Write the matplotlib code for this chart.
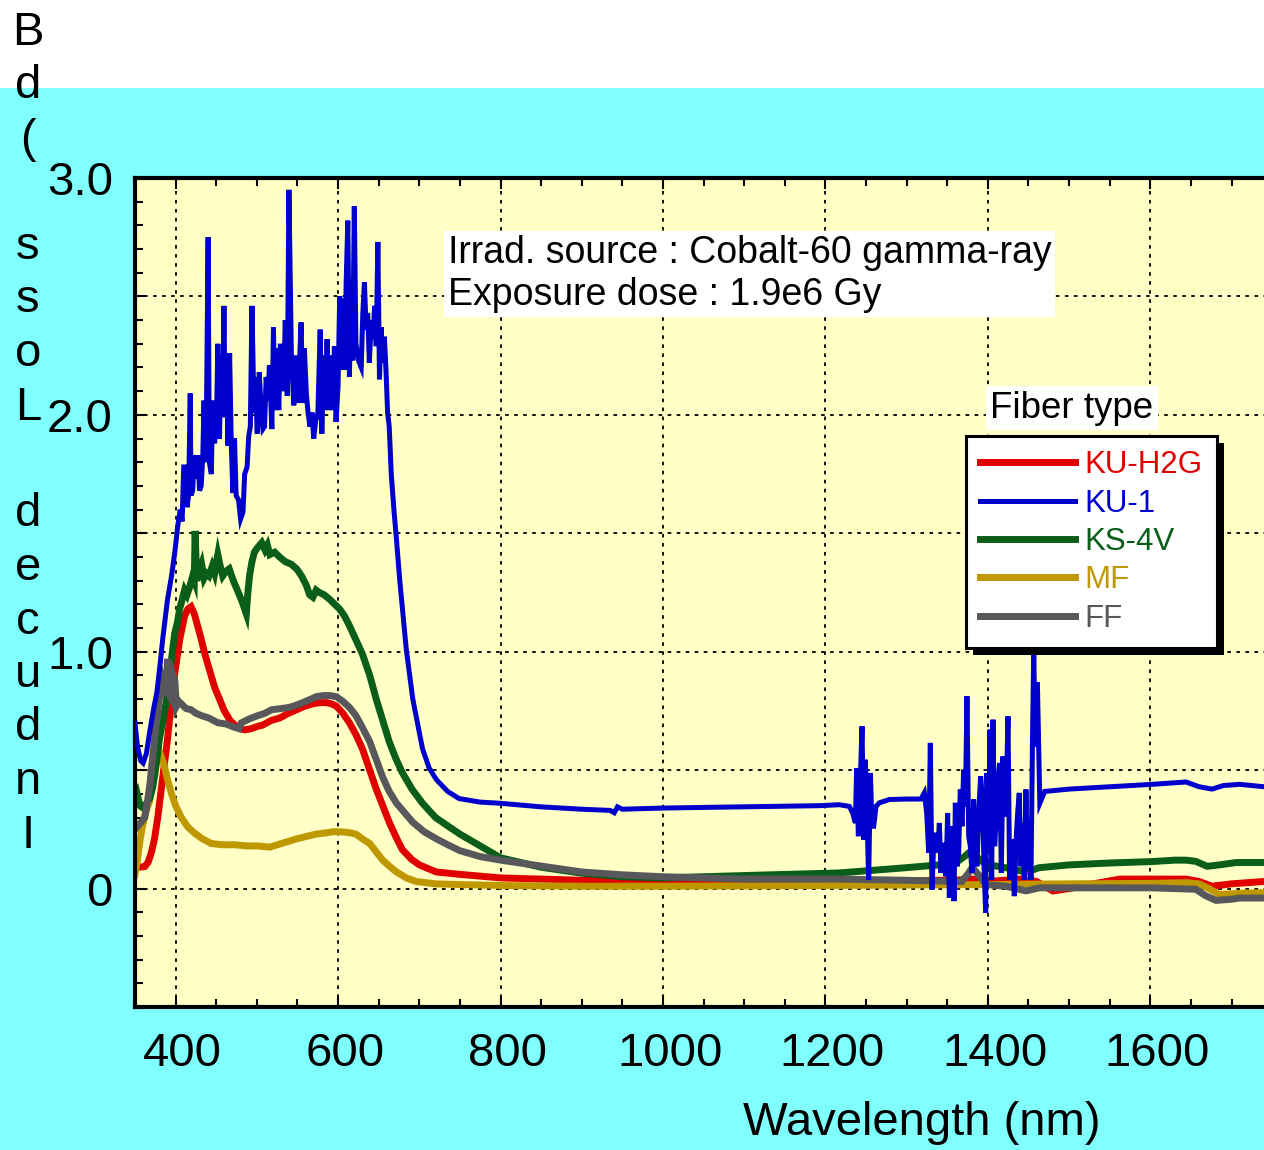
import numpy as np
import matplotlib
matplotlib.use("Agg")
import matplotlib.pyplot as plt
from matplotlib.patches import Rectangle
from matplotlib.ticker import MultipleLocator, FixedLocator
from matplotlib.transforms import ScaledTranslation, IdentityTransform

plt.rcParams['font.family'] = ['Liberation Sans', 'DejaVu Sans']

# ----------------- DATA -----------------

# KU-1 (blue, noisy)
ku1_wl = [350, 353, 357, 360, 364, 368, 373, 377, 381, 384, 390, 395, 399,
          403, 405.7, 408, 410, 412, 414, 416, 418, 419, 421, 423, 425, 427.5, 429.5, 431.5, 433.5,
          435, 436.5, 438, 440, 441.5, 444, 445.5, 448, 450.5, 452, 454, 456, 458, 459.5, 461, 463,
          464.5, 466.5, 468.5, 470.5, 472.5, 474.5, 477.5, 480, 483, 485, 488, 490, 492, 494, 496.5,
          498, 500.5, 503, 505.5, 507.5, 509.5, 511.5, 513.5, 515.5, 518.5, 520.5, 522, 525, 527, 529,
          531, 533, 535, 537.5, 539.5, 542.5, 545.5, 548, 550.5, 554.5, 556.5, 558.5, 561, 563, 565.5,
          568, 570, 573, 575, 578, 580, 582.5, 584, 586.5, 588.5, 591.5, 593.5, 595.5, 597.5, 600, 602,
          604, 606, 608, 610, 612, 614, 616, 618, 620, 622, 625, 628.5, 630.5, 632.5, 634.5, 636.5,
          638.5, 641, 643, 645, 647, 649, 651, 653, 655, 657, 659, 661, 663, 665.5, 669, 672, 676, 684,
          692, 704, 712, 721, 735, 749, 775, 800, 850, 900, 935, 940, 944, 950, 1000, 1100, 1193, 1217,
          1229.5, 1233.6, 1236.9, 1238.5, 1240.6, 1242.6, 1245.1, 1247.2, 1249.2, 1251.3, 1253.3, 1255.4,
          1257.4, 1259.5, 1262.3, 1266.4, 1278.7, 1299.3, 1317.7, 1321.8, 1324.7, 1327.2, 1329.2, 1331.3,
          1333.3, 1336.2, 1338.2, 1340.3, 1342.3, 1344.4, 1346.4, 1348.5, 1350.5, 1352.6, 1355.0, 1356.7,
          1358.3, 1360.0, 1362.0, 1364.1, 1366.1, 1368.2, 1370.2, 1372.3, 1374.3, 1376.4, 1378.4, 1380.5,
          1382.5, 1384.6, 1386.6, 1388.7, 1391.1, 1393.2, 1395.3, 1397.3, 1398.9, 1401.0, 1402.6, 1404.7,
          1406.3, 1408.4, 1410.4, 1412.5, 1414.5, 1416.6, 1418.6, 1420.7, 1422.7, 1424.8, 1426.8, 1428.9,
          1430.9, 1432.6, 1434.6, 1436.7, 1438.7, 1440.8, 1442.8, 1444.9, 1446.9, 1449.0, 1451.0, 1453.1,
          1455, 1456.5, 1458.5, 1461, 1464, 1470, 1500, 1550, 1602, 1644, 1660, 1676, 1690, 1710, 1740]
ku1_loss = [0.70, 0.60, 0.54, 0.53, 0.57, 0.66, 0.76, 0.83, 0.95, 1.05, 1.22, 1.32, 1.42,
            1.54, 1.60, 1.55, 1.78, 1.78, 1.61, 1.66, 2.09, 1.66, 1.68, 1.83, 1.73, 1.83, 1.68, 1.70, 1.83,
            2.06, 1.80, 2.01, 2.75, 1.80, 1.75, 2.06, 1.88, 2.01, 2.30, 1.90, 2.25, 2.01, 2.46, 1.99, 2.15,
            1.87, 2.26, 1.88, 1.67, 1.90, 1.66, 1.64, 1.56, 1.59, 1.75, 1.78, 1.91, 1.95, 2.46, 2.01,
            2.16, 1.92, 2.18, 2.01, 1.94, 1.95, 2.16, 2.06, 2.21, 1.94, 2.37, 2.02, 2.28, 2.02, 2.30,
            2.11, 2.11, 2.40, 2.08, 2.95, 2.26, 2.04, 2.25, 2.05, 2.39, 2.05, 2.28, 2.09, 2.01, 1.95,
            2.01, 1.90, 1.99, 1.99, 2.36, 1.92, 2.25, 2.02, 2.32, 2.02, 2.25, 2.02, 2.29, 1.97, 2.12, 2.50,
            2.19, 2.49, 2.19, 2.56, 2.82, 2.16, 2.56, 2.23, 2.88, 2.30, 2.23, 2.20, 2.43, 2.56, 2.36, 2.43,
            2.22, 2.40, 2.32, 2.46, 2.29, 2.73, 2.15, 2.37, 2.22, 2.33, 2.19, 2.01, 1.95, 1.75, 1.59, 1.47, 1.30, 1.01,
            0.80, 0.59, 0.51, 0.46, 0.41, 0.38, 0.365, 0.36, 0.345, 0.335, 0.33, 0.32, 0.345, 0.335, 0.34, 0.345, 0.35, 0.354,
            0.347, 0.319, 0.277, 0.509, 0.221, 0.418, 0.685, 0.207, 0.544, 0.291, 0.038, 0.488,
            0.263, 0.263, 0.347, 0.362, 0.376, 0.378, 0.378, 0.404, 0.319, 0.151, 0.615, -0.004,
            0.193, 0.235, 0.151, 0.277, 0.066, 0.193, 0.122, 0.052, 0.319, -0.039, 0.151, 0.263,
            -0.053, 0.362, 0.094, 0.151, 0.418, 0.263, 0.502, 0.347, 0.812, 0.221, 0.179, 0.066,
            0.376, 0.165, 0.094, 0.319, 0.474, 0.390, 0.094, -0.103, 0.488, 0.221, 0.671, 0.038,
            0.713, 0.179, 0.305, 0.460, 0.530, 0.066, 0.558, 0.305, 0.390, 0.727, 0.038, 0.207,
            0.151, -0.032, 0.193, 0.319, 0.404, 0.094, 0.277, 0.038, 0.418, 0.080, 0.235, 0.038,
            0.64, 1.00, 0.60, 0.87, 0.36, 0.41, 0.42, 0.43, 0.44, 0.45, 0.43, 0.42, 0.435, 0.44, 0.43]

# KS-4V (green)
ks4v_wl = [350, 352, 356, 360, 364, 368, 372, 376, 380, 385, 389, 392, 395, 399, 402, 405, 408, 411,
           414, 417, 421, 423, 424, 426, 429, 432, 435, 438, 441, 445, 448, 452, 455, 458, 462, 466, 471,
           476, 482, 487, 489, 491, 494, 497, 501, 506, 510, 513, 516, 522, 528, 535, 542, 549, 555, 561,
           565, 569, 573, 577, 583, 590, 596, 602, 608, 614, 622, 630, 639, 647, 655, 663, 671, 679, 691,
           704, 720, 737, 750, 775, 800, 850, 900, 950, 1000, 1100, 1217, 1299, 1340, 1361, 1373, 1378,
           1383, 1390, 1402, 1422, 1440, 1447, 1463, 1500, 1550, 1602, 1630, 1644, 1656, 1670, 1685, 1706, 1740]
ks4v_loss = [0.40, 0.41, 0.35, 0.34, 0.36, 0.38, 0.43, 0.52, 0.63, 0.72, 0.80, 0.90, 0.97, 1.08, 1.12, 1.18, 1.22, 1.26,
             1.24, 1.27, 1.32, 1.30, 1.51, 1.30, 1.34, 1.37, 1.31, 1.33, 1.32, 1.36, 1.33, 1.41, 1.36, 1.32, 1.34, 1.35, 1.30,
             1.26, 1.21, 1.16, 1.25, 1.32, 1.38, 1.42, 1.44, 1.46, 1.43, 1.45, 1.41, 1.42, 1.40, 1.38, 1.37, 1.35, 1.32, 1.28,
             1.24, 1.23, 1.26, 1.25, 1.24, 1.22, 1.20, 1.18, 1.15, 1.11, 1.05, 0.99, 0.90, 0.80, 0.71, 0.62, 0.55, 0.49, 0.42,
             0.36, 0.30, 0.26, 0.23, 0.18, 0.13, 0.09, 0.065, 0.05, 0.045, 0.055, 0.066, 0.088, 0.10, 0.11, 0.14, 0.155,
             0.15, 0.12, 0.10, 0.088, 0.075, 0.069, 0.088, 0.10, 0.108, 0.114, 0.12, 0.12, 0.115, 0.094, 0.10, 0.11, 0.11]

# KU-H2G (red)
kuh2g_wl = [350, 355, 362, 366, 370, 374, 378, 382, 386, 390, 393, 396, 399, 402, 405, 408, 411, 415, 419,
            423, 427, 431, 436, 442, 448, 454, 460, 467, 473, 479, 485, 493, 501, 507, 518, 528, 539, 549, 559,
            569, 578, 586, 592, 598, 606, 614, 622, 630, 638, 647, 655, 663, 671, 679, 690, 700, 721, 750, 800,
            900, 1000, 1100, 1200, 1300, 1330, 1360, 1380, 1400, 1420, 1440, 1460, 1480, 1500, 1530, 1562,
            1600, 1644, 1660, 1676, 1700, 1740]
kuh2g_loss = [0.09, 0.09, 0.093, 0.11, 0.15, 0.21, 0.30, 0.41, 0.52, 0.63, 0.73, 0.82, 0.91, 0.98, 1.05, 1.10, 1.15, 1.18, 1.19,
              1.16, 1.11, 1.06, 0.99, 0.92, 0.85, 0.80, 0.75, 0.71, 0.69, 0.675, 0.67, 0.675, 0.685, 0.69, 0.71, 0.72, 0.74, 0.755, 0.77,
              0.78, 0.785, 0.785, 0.78, 0.77, 0.74, 0.70, 0.65, 0.59, 0.51, 0.42, 0.35, 0.28, 0.22, 0.165, 0.125, 0.10, 0.07, 0.06, 0.045,
              0.035, 0.03, 0.025, 0.025, 0.03, 0.035, 0.035, 0.04, 0.03, 0.035, 0.04, 0.03, -0.01, 0.0, 0.02, 0.04,
              0.04, 0.04, 0.03, 0.01, 0.02, 0.03]

# MF (gold)
mf_wl = [350, 353, 356, 359, 363, 368, 372, 375, 378, 382, 386, 390, 395, 400, 407, 415, 423, 433, 444,
         458, 473, 487, 501, 516, 530, 549, 561, 573, 585, 594, 602, 612, 622, 630, 639, 647, 655, 663, 672,
         684, 696, 720, 750, 800, 900, 1000, 1200, 1400, 1500, 1600, 1644, 1660, 1672, 1685, 1710, 1740]
mf_loss = [0.06, 0.12, 0.20, 0.26, 0.32, 0.37, 0.45, 0.53, 0.60, 0.56, 0.52, 0.46, 0.40, 0.35, 0.30, 0.26, 0.235, 0.21, 0.19,
           0.185, 0.185, 0.18, 0.18, 0.175, 0.19, 0.21, 0.22, 0.23, 0.235, 0.24, 0.24, 0.237, 0.23, 0.21, 0.19, 0.155, 0.12, 0.095, 0.07,
           0.045, 0.03, 0.02, 0.017, 0.013, 0.01, 0.01, 0.013, 0.017, 0.02, 0.022, 0.025, 0.02, 0.0, -0.025, -0.02, -0.017]

# FF (gray)
ff_wl = [350, 355, 362, 365, 368, 371, 374, 377, 380, 382, 384, 387, 389, 390, 392, 395, 397, 399, 401,
         404, 407, 413, 419, 425, 432, 441, 452, 462, 473, 478, 481, 490, 501, 510, 518, 530, 540, 549, 560,
         573, 582, 590, 598, 606, 614, 622, 630, 639, 647, 655, 663, 672, 682, 692, 706, 721, 735, 750, 775,
         800, 850, 900, 950, 1000, 1100, 1217, 1300, 1361, 1368, 1375, 1381, 1388, 1398, 1422, 1447, 1463,
         1500, 1602, 1656, 1668, 1681, 1700, 1710, 1740]
ff_loss = [0.25, 0.27, 0.30, 0.36, 0.43, 0.53, 0.63, 0.72, 0.80, 0.85, 0.88, 0.84, 0.85, 0.97, 0.82, 0.80, 0.90, 0.88, 0.77,
           0.79, 0.78, 0.76, 0.755, 0.74, 0.73, 0.72, 0.70, 0.695, 0.68, 0.675, 0.70, 0.715, 0.73, 0.74, 0.755, 0.76, 0.765, 0.775, 0.79,
           0.81, 0.815, 0.815, 0.81, 0.79, 0.765, 0.73, 0.68, 0.62, 0.545, 0.47, 0.41, 0.36, 0.32, 0.28, 0.24, 0.21, 0.185, 0.16, 0.135,
           0.12, 0.095, 0.07, 0.058, 0.05, 0.04, 0.04, 0.035, 0.03, 0.03, 0.06, 0.09, 0.06, 0.017, 0.01, -0.01, 0.003,
           0.003, 0.003, -0.003, -0.03, -0.05, -0.045, -0.04, -0.04]

fiber_names = ['KU-H2G', 'KU-1', 'KS-4V', 'MF', 'FF']
ytick_labels = {0.0: '0', 1.0: '1.0', 2.0: '2.0', 3.0: '3.0'}
# the picture shows the label stacked bottom-to-top, its closing bracket is off the top edge
ylabel_text = 'Induced Loss (dB'
note_text = 'Irrad. source : Cobalt-60 gamma-ray\nExposure dose : 1.9e6 Gy'

# ----------------- PLOT -----------------

W, H = 1264, 1150
fig = plt.figure(figsize=(W / 100, H / 100), dpi=100, facecolor='#80FFFF')
fig.patches.append(Rectangle((0, 1 - 88 / H), 1, 88 / H, transform=fig.transFigure,
                             facecolor='white', edgecolor='none', zorder=0))

ax = fig.add_axes([135 / W, 1 - 1007 / H, 1 - 135 / W, (1007 - 178) / H])
ax.set_facecolor('#FFFFC6')

series = [
    (kuh2g_wl, kuh2g_loss, '#E00000', 5.0, 2.0),
    (ku1_wl, ku1_loss, '#0000CC', 3.6, 2.6),
    (ks4v_wl, ks4v_loss, '#0B5E1A', 5.0, 2.2),
    (mf_wl, mf_loss, '#BF9800', 5.0, 2.1),
    (ff_wl, ff_loss, '#58585C', 5.0, 2.4),
]
handles = {}
for name, (x, y, c, lw, z) in zip(fiber_names, series):
    handles[name], = ax.plot(x, y, color=c, lw=lw, zorder=z, label=name, solid_joinstyle='miter')

ax.set_xlim(350, 1740)
ax.set_ylim(-0.5, 3.0)

ax.xaxis.set_major_locator(FixedLocator(np.arange(400, 1601, 200)))
ax.xaxis.set_minor_locator(MultipleLocator(50))
ax.yaxis.set_major_locator(MultipleLocator(0.5))
ax.yaxis.set_minor_locator(MultipleLocator(0.1))
ax.yaxis.set_major_formatter(plt.FuncFormatter(lambda v, p: ytick_labels.get(round(v, 2), '')))

ax.tick_params(which='both', direction='in', top=True, right=False, color='black', width=1.5)
ax.tick_params(which='major', length=8)
ax.tick_params(which='minor', length=6)
ax.tick_params(axis='x', which='major', labelsize=34, pad=18)
ax.tick_params(axis='y', which='major', labelsize=34, pad=16)

for lab in ax.get_xticklabels():
    lab.set_transform(lab.get_transform() + ScaledTranslation(7 / 100, 0, fig.dpi_scale_trans))

ax.grid(which='major', color='black', linestyle=(0, (2, 3)), lw=1.3)

for s in ['left', 'top', 'bottom']:
    ax.spines[s].set_linewidth(3)
ax.spines['right'].set_visible(False)

# note box
ax.text((448 - 135) / 1129, (1007 - 274) / 829, note_text, transform=ax.transAxes,
        fontsize=27, ha='left', va='center', linespacing=1.2, zorder=6,
        bbox=dict(boxstyle='square,pad=0.1', facecolor='white', edgecolor='none'))

# legend title box and legend
ax.text((990 - 135) / 1129, (1007 - 408) / 829, 'Fiber type', transform=ax.transAxes,
        fontsize=26.5, ha='left', va='center', zorder=6,
        bbox=dict(boxstyle='square,pad=0.12', facecolor='white', edgecolor='none'))

leg = ax.legend([handles[n] for n in fiber_names], fiber_names, loc='upper left',
                bbox_to_anchor=((966 - 135) / 1129, (1007 - 436) / 829), borderaxespad=0,
                fontsize=22.5, labelcolor='linecolor', handlelength=3.05, handletextpad=0.3,
                borderpad=0.45, labelspacing=0.27, fancybox=False, framealpha=1,
                edgecolor='black', facecolor='white')
leg.get_frame().set_linewidth(2.2)
leg.set_zorder(7)

# stacked y label (characters upright, read bottom to top)
for i, ch in enumerate(ylabel_text[::-1]):
    fig.text(28 / W, 1 - (45 + i * 53.5) / H, ch, fontsize=34,
             ha='center', va='baseline', zorder=5)

fig.text(922 / W, 1 - 1123 / H, 'Wavelength (nm)', fontsize=34, ha='center', va='center')

# legend shadow
fig.canvas.draw()
bb = leg.get_window_extent()
ax.add_patch(Rectangle((bb.x0 + 7, bb.y0 - 7), bb.width, bb.height, transform=IdentityTransform(),
                       facecolor='black', edgecolor='none', zorder=6.9))

fig.savefig('out.png', dpi=100, facecolor=fig.get_facecolor())
